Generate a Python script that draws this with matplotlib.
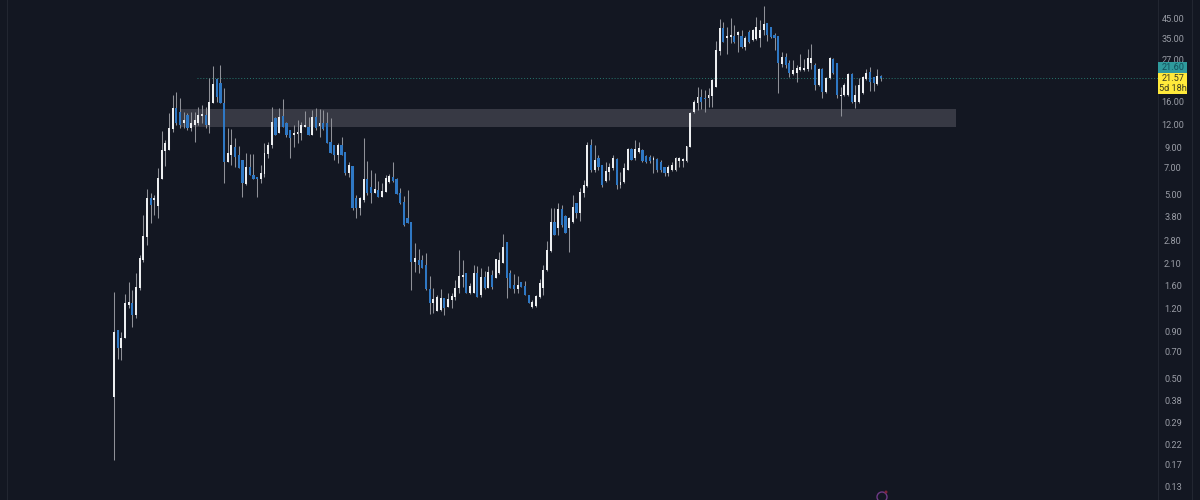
"""
Daily candles on a log price scale, dark chart theme, with one grey zone.
"""

import numpy as np
import matplotlib
matplotlib.use("Agg")
import matplotlib.pyplot as plt
from matplotlib.patches import Ellipse, Rectangle

# values, one row per 10 candles
opens = [0.40, 0.925, 0.73, 0.83, 1.26, 1.29, 1.11, 1.56, 2.21, 2.94,
         4.79, 4.67, 4.33, 6.07, 8.62, 8.73, 11.3, 14.8, 14.1, 12.2,
         13.5, 11.5, 11.9, 12.2, 13.4, 13.5, 11.9, 15.7, 21.3, 20.2,
         15.7, 7.51, 8.20, 9.06, 8.20, 7.70, 5.70, 7.06, 6.39, 6.23,
         6.07, 6.47, 8.30, 9.29, 13.0, 10.8, 13.4, 12.2, 11.2, 10.5,
         10.7, 10.8, 11.6, 11.6, 10.5, 13.2, 11.8, 12.2, 12.2, 9.65,
         9.29, 8.20, 9.29, 8.51, 6.55, 7.15, 4.79, 4.22, 4.67, 6.07,
         5.49, 5.09, 5.29, 4.85, 5.16, 5.85, 6.23, 6.07, 5.09, 4.55,
         3.73, 3.55, 2.15, 2.21, 2.21, 2.07, 1.54, 1.29, 1.16, 1.18,
         1.37, 1.23, 1.34, 1.39, 1.56, 1.78, 1.88, 1.46, 1.46, 1.88,
         1.43, 1.78, 1.56, 1.83, 1.76, 1.88, 2.13, 2.76, 1.88, 1.62,
         1.54, 1.68, 1.60, 1.43, 1.23, 1.24, 1.39, 1.56, 1.95, 2.47,
         3.55, 3.29, 4.17, 3.82, 3.29, 3.55, 4.50, 3.97, 5.09, 5.56,
         9.29, 6.80, 7.90, 7.24, 5.92, 6.63, 6.97, 7.80, 5.63, 5.85,
         6.80, 8.84, 7.90, 8.51, 8.73, 8.10, 8.00, 7.70, 7.80, 7.51,
         7.06, 6.55, 6.80, 6.80, 7.61, 7.61, 7.61, 9.06, 14.1, 15.7,
         17.0, 16.8, 16.8, 17.2, 19.2, 30.1, 40.2, 35.5, 35.9, 36.4,
         36.8, 36.4, 31.7, 38.2, 34.6, 35.0, 35.5, 39.2, 42.8, 40.7,
         36.8, 36.4, 25.6, 28.0, 25.9, 22.6, 22.9, 23.8, 23.8, 24.1,
         25.9, 25.3, 19.7, 24.1, 18.1, 21.5, 27.3, 25.9, 17.2, 17.4,
         17.4, 22.6, 15.9, 15.9, 17.8, 21.3, 23.2, 21.8, 20.0, 22.1]
highs = [1.48, 0.925, 0.90, 1.44, 1.68, 1.52, 1.88, 2.35, 3.87, 5.36,
         5.09, 4.97, 6.97, 11.1, 9.9, 13.9, 17.4, 18.1, 16.8, 14.1,
         13.9, 14.1, 14.1, 15.0, 15.3, 15.0, 21.5, 25.0, 21.5, 25.3,
         19.0, 11.5, 11.3, 10.1, 9.17, 7.70, 8.41, 8.30, 8.30, 6.23,
         7.24, 9.53, 9.65, 15.0, 13.2, 14.8, 16.5, 12.4, 11.2, 11.9,
         12.7, 12.4, 14.2, 13.2, 14.4, 14.8, 14.6, 14.4, 14.1, 13.0,
         9.29, 9.53, 10.3, 8.51, 7.51, 7.15, 4.97, 4.85, 10.1, 7.61,
         6.80, 6.55, 5.92, 5.78, 6.39, 6.47, 7.51, 6.15, 5.42, 4.91,
         5.29, 3.55, 2.73, 2.53, 2.35, 2.41, 1.81, 1.56, 1.43, 1.54,
         1.37, 1.46, 1.46, 1.72, 2.50, 2.21, 1.88, 1.66, 2.07, 2.05,
         2.00, 1.92, 2.05, 1.95, 2.23, 2.44, 3.05, 2.76, 1.95, 1.85,
         1.81, 1.68, 1.70, 1.43, 1.34, 1.43, 1.74, 2.07, 2.80, 4.22,
         4.22, 4.50, 4.39, 3.87, 3.77, 4.97, 4.50, 5.42, 6.00, 9.65,
         10.0, 9.29, 8.20, 7.24, 7.51, 7.42, 8.20, 7.90, 6.63, 7.42,
         8.95, 8.95, 9.9, 9.65, 8.84, 8.20, 8.20, 8.10, 7.90, 7.70,
         7.06, 7.24, 7.51, 8.00, 8.00, 7.90, 9.17, 14.1, 16.3, 19.2,
         18.8, 18.5, 19.0, 21.3, 34.2, 45.0, 43.4, 40.7, 45.6, 41.8,
         38.7, 39.2, 36.4, 39.2, 39.7, 46.1, 44.4, 52.9, 42.8, 40.7,
         37.8, 36.4, 29.8, 29.4, 26.9, 26.9, 25.3, 29.0, 27.3, 30.9,
         32.9, 25.9, 24.4, 24.4, 21.8, 28.0, 27.6, 25.9, 19.2, 20.2,
         22.9, 22.9, 19.7, 21.5, 22.1, 24.1, 24.7, 21.8, 24.1, 22.3]
lows = [0.18, 0.64, 0.63, 0.83, 1.21, 0.95, 1.07, 1.52, 2.15, 2.66,
        3.50, 3.87, 3.73, 6.07, 7.15, 8.73, 10.9, 11.9, 11.5, 11.5,
        11.2, 11.1, 9.65, 11.9, 12.2, 11.5, 10.8, 15.7, 15.9, 15.7,
        5.78, 7.51, 7.24, 7.06, 6.97, 4.85, 5.63, 6.39, 6.07, 4.85,
        5.78, 6.23, 7.90, 8.95, 10.5, 10.8, 11.6, 10.3, 7.90, 9.06,
        9.53, 9.9, 11.6, 10.5, 10.5, 11.2, 10.3, 11.2, 9.53, 8.41,
        7.70, 7.42, 8.20, 6.39, 6.23, 4.12, 3.73, 3.87, 4.55, 4.97,
        4.50, 5.09, 4.85, 4.85, 5.16, 5.78, 5.85, 5.03, 4.44, 3.37,
        3.50, 1.52, 1.90, 1.88, 2.00, 1.52, 1.13, 1.14, 1.16, 1.16,
        1.11, 1.23, 1.21, 1.34, 1.46, 1.58, 1.46, 1.44, 1.46, 1.39,
        1.39, 1.54, 1.56, 1.54, 1.76, 1.85, 2.13, 1.37, 1.56, 1.46,
        1.46, 1.58, 1.43, 1.29, 1.21, 1.23, 1.37, 1.43, 1.92, 2.44,
        3.02, 3.02, 3.33, 3.09, 2.44, 3.50, 3.73, 3.59, 4.85, 5.49,
        6.63, 6.63, 6.80, 5.49, 5.85, 6.00, 6.80, 5.36, 5.42, 5.78,
        6.80, 7.70, 7.70, 8.41, 7.51, 7.42, 7.42, 6.55, 6.63, 6.63,
        6.31, 6.31, 6.71, 6.71, 7.06, 7.06, 7.51, 9.06, 13.9, 14.4,
        14.6, 14.1, 15.0, 15.0, 19.2, 28.7, 33.7, 29.0, 33.3, 33.3,
        29.8, 31.3, 30.5, 33.3, 34.2, 34.6, 31.7, 36.8, 34.2, 35.5,
        30.5, 17.8, 24.7, 24.4, 21.8, 22.3, 20.5, 23.5, 23.5, 23.5,
        24.1, 18.5, 19.5, 16.8, 17.8, 21.3, 22.6, 16.8, 13.4, 17.2,
        17.2, 15.7, 14.8, 15.7, 17.6, 21.0, 18.3, 18.3, 19.7, 20.7]
closes = [0.90, 0.73, 0.83, 1.29, 1.31, 1.11, 1.58, 2.26, 2.98, 4.79,
          4.39, 4.79, 6.15, 8.73, 9.53, 11.5, 14.8, 12.2, 11.9, 12.7,
          11.5, 12.2, 12.7, 13.5, 13.7, 11.9, 15.9, 20.0, 17.0, 15.7,
          7.51, 8.41, 9.29, 8.00, 6.97, 5.78, 7.06, 6.39, 6.07, 6.07,
          6.55, 8.41, 9.29, 12.4, 10.5, 13.2, 11.6, 10.5, 10.1, 10.8,
          10.9, 11.9, 11.9, 10.5, 13.2, 11.5, 12.2, 11.3, 9.53, 8.41,
          8.20, 9.29, 8.20, 6.55, 7.24, 4.22, 4.22, 4.79, 6.07, 5.09,
          5.09, 5.36, 4.85, 5.22, 6.15, 6.31, 5.92, 5.03, 4.50, 3.42,
          3.50, 2.15, 2.26, 2.07, 2.00, 1.54, 1.29, 1.36, 1.39, 1.37,
          1.21, 1.36, 1.41, 1.56, 1.81, 1.83, 1.46, 1.60, 1.88, 1.39,
          1.78, 1.56, 1.90, 1.58, 2.23, 2.21, 2.60, 1.76, 1.56, 1.54,
          1.62, 1.58, 1.43, 1.29, 1.31, 1.41, 1.66, 1.95, 2.50, 3.55,
          3.02, 4.17, 3.42, 3.09, 3.73, 4.28, 3.97, 5.16, 5.63, 9.29,
          6.80, 7.70, 7.06, 5.63, 6.71, 7.06, 7.90, 5.63, 5.85, 6.97,
          8.84, 7.70, 8.84, 8.95, 7.61, 7.51, 7.61, 7.90, 6.80, 6.80,
          6.55, 7.06, 7.24, 7.90, 7.90, 7.80, 9.17, 13.9, 15.9, 17.0,
          15.9, 16.5, 17.4, 21.0, 30.5, 40.2, 33.7, 36.4, 36.8, 33.7,
          38.2, 31.7, 35.5, 33.7, 39.2, 40.7, 39.2, 42.3, 36.8, 35.9,
          35.5, 25.9, 28.0, 25.3, 22.9, 23.8, 24.4, 24.7, 24.4, 27.6,
          27.6, 19.7, 24.1, 18.1, 21.5, 27.6, 22.9, 17.4, 17.4, 19.7,
          22.6, 15.9, 17.4, 19.7, 21.8, 22.9, 20.5, 20.2, 22.1, 21.57]

price_ticks = [45, 35, 27, 16, 12, 9, 7, 5, 3.8, 2.8, 2.1, 1.6, 1.2,
               0.9, 0.7, 0.5, 0.38, 0.29, 0.22, 0.17, 0.13]
zone_low, zone_high = 11.6, 14.6
last_price = 21.57
other_price = 21.60
countdown = "5d 18h"

BG = "#131722"
UP = "#eceef0"
DOWN = "#2f78c4"
WICK = "#8f9198"

W, H = 1200, 500
BAR_X0, BAR_STEP = 114.0, 3.67
Y_TOP, Y_BOTTOM = 57.1, 0.1096


def px_to_index(px):
    return (px - BAR_X0) / BAR_STEP


fig = plt.figure(figsize=(W / 100, H / 100), dpi=100, facecolor=BG)
ax = fig.add_axes([0, 0, 1, 1], facecolor=BG)
ax.set_yscale("log")
ax.set_xlim(px_to_index(0), px_to_index(W))
ax.set_ylim(Y_BOTTOM, Y_TOP)
ax.axis("off")

o = np.array(opens)
h = np.array(highs)
l = np.array(lows)
c = np.array(closes)
idx = np.arange(len(o))
up = c >= o

# grey zone + last price line
ax.add_patch(Rectangle((px_to_index(180), zone_low), px_to_index(956) - px_to_index(180),
                       zone_high - zone_low, facecolor="#373944", edgecolor="none", zorder=1))
ax.hlines(last_price, px_to_index(197), px_to_index(1158), color="#26786f",
          linewidth=0.7, linestyle=(0, (1, 2)), zorder=1.5)

# candles
ax.vlines(idx, l, h, color=WICK, linewidth=0.75, zorder=2)
body_low = np.minimum(o, c)
body_high = np.maximum(o, c)
ax.bar(idx[up], body_high[up] - body_low[up], bottom=body_low[up], width=0.52,
       color=UP, linewidth=0, zorder=3)
ax.bar(idx[~up], body_high[~up] - body_low[~up], bottom=body_low[~up], width=0.6,
       color=DOWN, linewidth=0, zorder=3)

# right scale
for px in (7, 1158, 1192):
    ax.axvline(px_to_index(px), color="#222631", linewidth=0.8, zorder=0)

label_tf = ax.get_yaxis_transform()
for p in price_ticks:
    ax.text(0.9775, p * 0.99, f"{p:.2f}", transform=label_tf, ha="center", va="center",
            fontsize=6.6, color="#9a9da6", family="Roboto", zorder=4)

# price tags on the scale
ax.add_patch(Rectangle((1158 / W, 22.9), 29 / W, 26.3 - 22.9, transform=label_tf,
                       facecolor="#2f9a9c", edgecolor="none", zorder=5))
ax.add_patch(Rectangle((1158 / W, 17.6), 29 / W, 22.9 - 17.6, transform=label_tf,
                       facecolor="#ffe93b", edgecolor="none", zorder=5))
ax.text(0.9775, 24.5, f"{other_price:.2f}", transform=label_tf, ha="center", va="center",
        fontsize=6.6, color="#12505a", family="Roboto", zorder=6)
ax.text(0.9775, 21.3, f"{last_price:.2f}", transform=label_tf, ha="center", va="center",
        fontsize=6.6, color="#3a3a20", family="Roboto", zorder=6)
ax.text(0.9775, 18.9, countdown, transform=label_tf, ha="center", va="center",
        fontsize=6.6, color="#3a3a20", family="Roboto", zorder=6)

# small logo cut off by the bottom edge
fig.add_artist(Ellipse((882 / W, 3 / H), 10 / W, 10 / H, transform=fig.transFigure,
                       facecolor="none", edgecolor="#6e3a86", linewidth=1.0))
fig.add_artist(Ellipse((886 / W, 8 / H), 3 / W, 3 / H, transform=fig.transFigure,
                       facecolor="#7c2438", edgecolor="none"))

fig.savefig("out.png", dpi=100, facecolor=BG)
